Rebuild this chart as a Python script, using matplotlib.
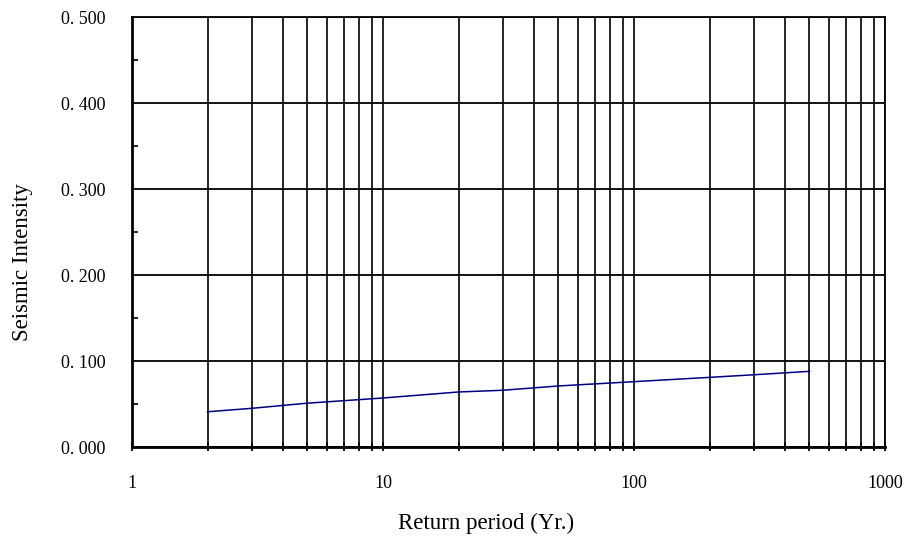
import matplotlib
matplotlib.use("Agg")
import matplotlib.pyplot as plt
from matplotlib.ticker import FixedLocator, FuncFormatter, NullFormatter

# return period (years) and seismic intensity
periods = [2, 3, 5, 10, 20, 30, 50, 100, 200, 300, 500]
intensity = [0.041, 0.045, 0.051, 0.057, 0.064, 0.066, 0.071, 0.076, 0.081, 0.084, 0.088]

x_major = [1, 10, 100, 1000]
x_labels = ["1", "10", "100", "1000"]
y_major = [0.0, 0.1, 0.2, 0.3, 0.4, 0.5]

plt.rcParams["font.family"] = ["Liberation Serif", "DejaVu Serif"]

fig = plt.figure(figsize=(9.08, 5.38), dpi=100)
ax = fig.add_axes([0.1454, 0.1691, 0.8293, 0.7993])

ax.plot(periods, intensity, color="#000080", linewidth=1.1, zorder=3)

ax.set_xscale("log")
ax.set_xlim(1, 1000)
ax.set_ylim(0, 0.5)

minor_x = [m * d for d in (1, 10, 100) for m in range(2, 10)]
ax.xaxis.set_major_locator(FixedLocator(x_major))
ax.xaxis.set_minor_locator(FixedLocator(minor_x))
ax.xaxis.set_major_formatter(FuncFormatter(lambda v, p: x_labels[x_major.index(v)] if v in x_major else ""))
ax.xaxis.set_minor_formatter(NullFormatter())

ax.yaxis.set_major_locator(FixedLocator(y_major))
ax.yaxis.set_minor_locator(FixedLocator([0.05, 0.15, 0.25, 0.35, 0.45]))
ax.yaxis.set_major_formatter(FuncFormatter(lambda v, p: "0. " + f"{v:.3f}"[2:]))

ax.grid(True, which="both", axis="x", color="black", linewidth=1.2)
ax.grid(True, which="major", axis="y", color="black", linewidth=1.3)

ax.tick_params(axis="x", which="both", direction="inout", length=6, width=1.3,
               pad=17, labelsize=13, colors="black")
ax.tick_params(axis="y", which="major", direction="in", length=0, pad=19, labelsize=13)
ax.tick_params(axis="y", which="minor", direction="in", length=4, width=1.2)

for side in ["left", "bottom"]:
    ax.spines[side].set_linewidth(2.0)
for side in ["top", "right"]:
    ax.spines[side].set_linewidth(1.3)

ax.set_xlabel("Return period (Yr.)", fontsize=16.5)
ax.set_ylabel("Seismic Intensity", fontsize=16.5)
ax.xaxis.set_label_coords(0.47, -0.152)
ax.yaxis.set_label_coords(-0.131, 0.43)

fig.savefig("out.png", dpi=100)
